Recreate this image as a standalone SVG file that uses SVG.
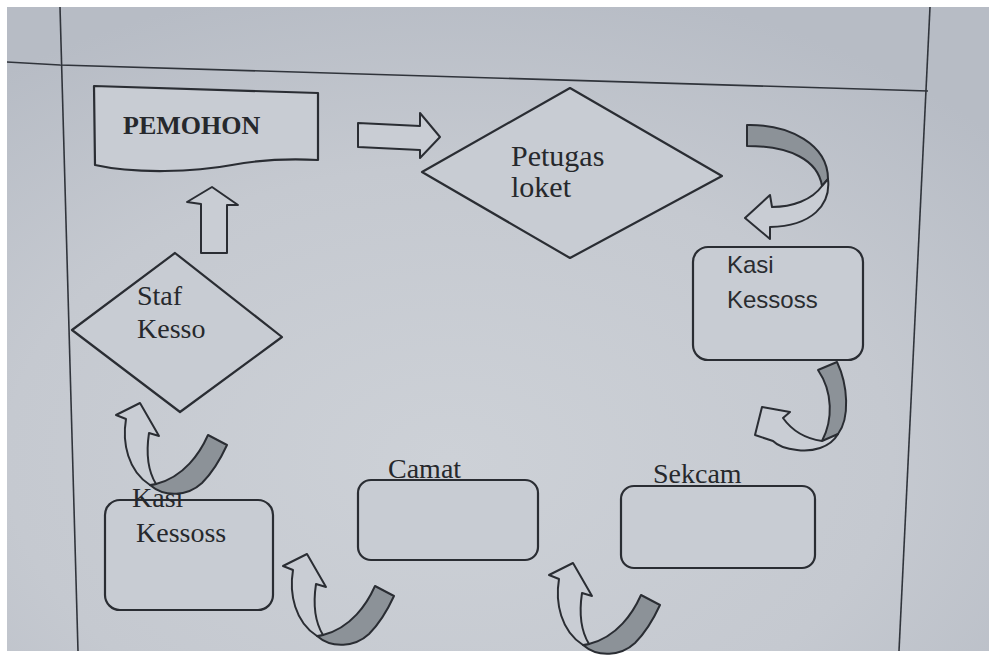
<svg xmlns="http://www.w3.org/2000/svg" xmlns:xlink="http://www.w3.org/1999/xlink" width="996" height="658" viewBox="0 0 996 658">
<defs>
<radialGradient id="paper" cx="0.45" cy="0.7" r="0.75">
<stop offset="0" stop-color="#cdd1d7"/>
<stop offset="0.6" stop-color="#c5c9d0"/>
<stop offset="1" stop-color="#b7bcc5"/>
</radialGradient>
<style>
.ln{fill:none;stroke:#30343b;stroke-width:1.6}
.shp{fill:#c8ccd3;stroke:#2a2d33;stroke-width:2.2;stroke-linejoin:round}
.band{fill:#8c9298;stroke:#2a2d33;stroke-width:2;stroke-linejoin:round}
.arw{fill:#c9cdd4;stroke:#2a2d33;stroke-width:2;stroke-linejoin:round}
.serif{font-family:"Liberation Serif","DejaVu Serif",serif;fill:#26282c}
.sans{font-family:"Liberation Sans","DejaVu Sans",sans-serif;fill:#2a2c30}
</style>
<g id="uturn">
<path class="band" d="M10,82 C25,95 48,93 62,80 C74,68 81,55 87,42 L68,32 C60,50 44,74 16,81 Z"/>
<path class="arw" d="M0,0 L19,33 L9,30 C6,50 8,68 16,81 L10,82 C-12,68 -18,40 -14,16 L-24,12 Z"/>
</g>
</defs>
<rect width="996" height="658" fill="#ffffff"/>
<rect x="7" y="7" width="982" height="644" fill="url(#paper)"/>
<g id="frame">
<path class="ln" d="M7,62 L60,65 L928,91"/>
<path class="ln" d="M60,7 L78,651"/>
<path class="ln" d="M930,7 L899,651"/>
</g>
<g id="pemohon">
<path class="shp" d="M94,86 L318,93 L318,160 C300,159 270,158 232,165 C195,172 135,174 95,165 Z"/>
<text class="serif" x="123" y="134" font-size="26" font-weight="bold">PEMOHON</text>
</g>
<g id="petugas-loket">
<path class="shp" d="M422,172 L570,88 L722,176 L570,258 Z"/>
<text class="serif" x="511" y="166" font-size="30">Petugas</text>
<text class="serif" x="511" y="197" font-size="30">loket</text>
</g>
<g id="kasi-kessoss-1">
<rect class="shp" x="693" y="247" width="170" height="113" rx="15"/>
<text class="sans" x="727" y="273" font-size="24">Kasi</text>
<text class="sans" x="727" y="308" font-size="24">Kessoss</text>
</g>
<g id="sekcam">
<rect class="shp" x="621" y="486" width="194" height="82" rx="13"/>
<text class="serif" x="653" y="483" font-size="28">Sekcam</text>
</g>
<g id="camat">
<rect class="shp" x="358" y="480" width="180" height="80" rx="13"/>
<text class="serif" x="388" y="478" font-size="28">Camat</text>
</g>
<g id="kasi-kessoss-2">
<rect class="shp" x="105" y="500" width="168" height="110" rx="15"/>
<text class="serif" x="132" y="507" font-size="28">Kasi</text>
<text class="serif" x="136" y="542" font-size="28">Kessoss</text>
</g>
<g id="staf-kesso">
<path class="shp" d="M72,330 L175,253 L282,337 L180,412 Z"/>
<text class="serif" x="137" y="305" font-size="28">Staf</text>
<text class="serif" x="137" y="338" font-size="28">Kesso</text>
</g>
<g id="connectors">
<path class="arw" d="M358,123 L420,126 L420,113 L440,137 L420,158 L420,150 L358,147 Z"/>
<path class="band" d="M747,125 C790,124 828,145 828,179 L822,186 C818,160 790,146 747,146 Z"/>
<path class="arw" d="M745,218 L770,195 L772,207 C792,207 812,200 822,186 L828,179 C831,205 812,226 770,227 L770,239 Z"/>
<path class="band" d="M818,370 L837,362 C848,385 850,418 838,434 C833,439 828,441 822,441 C833,420 833,392 818,370 Z"/>
<path class="arw" d="M762,407 L790,412 L783,418 C793,432 808,439 822,441 L838,434 C830,448 812,452 797,450 C787,449 778,446 773,441 L755,435 Z"/>
<use xlink:href="#uturn" href="#uturn" transform="translate(573,563)"/>
<use xlink:href="#uturn" href="#uturn" transform="translate(307,554)"/>
<use xlink:href="#uturn" href="#uturn" transform="translate(140,403)"/>
<path class="arw" d="M212,187 L238,205 L227,205 L227,253 L201,253 L201,204 L187,202 Z"/>
</g>
</svg>
